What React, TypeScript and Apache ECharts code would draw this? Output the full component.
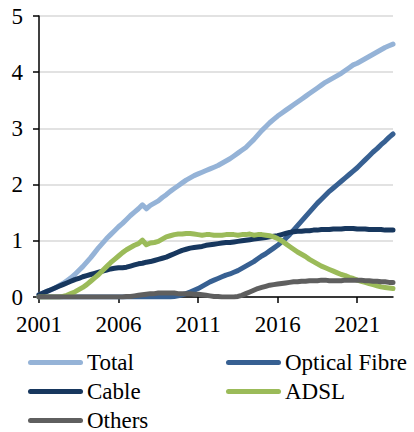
import React, { useEffect, useRef } from "react";
import * as echarts from "echarts";

const years = Array.from({ length: 23 }, (_, i) => 2001 + i);
const quarters = ["Q1", "Q2", "Q3", "Q4"];
const categories: string[] = [];
years.forEach((y) => quarters.forEach((q) => categories.push(`${y}${q}`)));
categories.length = 90; // 2001Q1 .. 2023Q2

const total = [
  0.04, 0.07, 0.10, 0.13,
  0.16, 0.20, 0.24, 0.29,
  0.34, 0.40, 0.47, 0.54,
  0.62, 0.70, 0.79, 0.88,
  0.96, 1.04, 1.11, 1.18,
  1.25, 1.31, 1.38, 1.45,
  1.51, 1.57, 1.64, 1.57,
  1.63, 1.67, 1.71, 1.77,
  1.82, 1.88, 1.93, 1.98,
  2.03, 2.08, 2.12, 2.16,
  2.19, 2.22, 2.25, 2.28,
  2.31, 2.34, 2.38, 2.42,
  2.46, 2.51, 2.56, 2.61,
  2.66, 2.73, 2.80, 2.88,
  2.96, 3.03, 3.10, 3.16,
  3.22, 3.27, 3.32, 3.37,
  3.42, 3.47, 3.52, 3.57,
  3.62, 3.67, 3.72, 3.77,
  3.82, 3.86, 3.90, 3.94,
  3.98, 4.03, 4.08, 4.13,
  4.16, 4.20, 4.24, 4.28,
  4.32, 4.36, 4.40, 4.44,
  4.47, 4.50,
];

const opticalFibre = [
  0, 0, 0, 0,
  0, 0, 0, 0,
  0, 0, 0, 0,
  0, 0, 0, 0,
  0, 0, 0, 0,
  0, 0, 0, 0,
  0, 0, 0, 0,
  0, 0, 0, 0,
  0, 0, 0.01, 0.02,
  0.04, 0.06, 0.09, 0.12,
  0.15, 0.19, 0.23, 0.27,
  0.30, 0.33, 0.36, 0.39,
  0.41, 0.44, 0.47, 0.51,
  0.55, 0.59, 0.63, 0.68,
  0.73, 0.77, 0.82, 0.87,
  0.92, 0.98, 1.04, 1.11,
  1.19, 1.27, 1.35, 1.43,
  1.51, 1.59, 1.67, 1.74,
  1.81, 1.88, 1.94, 2.00,
  2.06, 2.12, 2.18, 2.24,
  2.30, 2.37, 2.44, 2.51,
  2.58, 2.64, 2.71, 2.77,
  2.84, 2.90,
];

const cable = [
  0.04, 0.07, 0.10, 0.13,
  0.16, 0.19, 0.22, 0.25,
  0.28, 0.31, 0.33, 0.36,
  0.38, 0.40, 0.42, 0.44,
  0.46, 0.48, 0.50, 0.51,
  0.52, 0.52, 0.53, 0.55,
  0.57, 0.59, 0.60, 0.62,
  0.63, 0.65, 0.67, 0.69,
  0.71, 0.74, 0.77, 0.80,
  0.83, 0.85, 0.87, 0.88,
  0.89, 0.90, 0.92, 0.93,
  0.94, 0.95, 0.96, 0.97,
  0.97, 0.98, 0.99, 1.00,
  1.01, 1.02, 1.03, 1.04,
  1.05, 1.06, 1.07, 1.08,
  1.09, 1.11, 1.13, 1.15,
  1.16, 1.17, 1.17, 1.18,
  1.18, 1.19, 1.19, 1.20,
  1.20, 1.20, 1.21, 1.21,
  1.21, 1.22, 1.22, 1.22,
  1.21, 1.21, 1.21, 1.20,
  1.20, 1.20, 1.20, 1.19,
  1.19, 1.19,
];

const adsl = [
  0, 0, 0, 0,
  0, 0, 0.01, 0.03,
  0.06, 0.09, 0.13, 0.17,
  0.22, 0.28, 0.34, 0.40,
  0.47, 0.54, 0.61, 0.67,
  0.73, 0.79, 0.84, 0.88,
  0.92, 0.95, 1.01, 0.93,
  0.96, 0.97, 0.99, 1.03,
  1.07, 1.09, 1.11, 1.12,
  1.12, 1.13, 1.13, 1.12,
  1.11, 1.10, 1.11, 1.11,
  1.10, 1.10, 1.10, 1.11,
  1.11, 1.11, 1.10, 1.11,
  1.11, 1.12, 1.10, 1.11,
  1.11, 1.10, 1.09, 1.07,
  1.04, 1.00, 0.95, 0.90,
  0.85, 0.80, 0.76, 0.72,
  0.67, 0.63, 0.59, 0.55,
  0.52, 0.49, 0.46, 0.43,
  0.40, 0.38, 0.35, 0.33,
  0.30, 0.28, 0.26, 0.24,
  0.22, 0.20, 0.18, 0.17,
  0.16, 0.15,
];

const others = [
  0, 0, 0, 0,
  0, 0, 0, 0,
  0, 0, 0, 0,
  0, 0, 0, 0,
  0, 0, 0, 0,
  0, 0, 0.01, 0.01,
  0.02, 0.03, 0.04, 0.05,
  0.06, 0.06, 0.07, 0.07,
  0.07, 0.07, 0.07, 0.06,
  0.06, 0.06, 0.06, 0.05,
  0.05, 0.04, 0.03, 0.02,
  0.01, 0.01, 0, 0,
  0, 0, 0.01, 0.03,
  0.06, 0.09, 0.12, 0.15,
  0.17, 0.19, 0.21, 0.22,
  0.23, 0.24, 0.25, 0.26,
  0.27, 0.27, 0.28, 0.28,
  0.29, 0.29, 0.29, 0.30,
  0.30, 0.29, 0.29, 0.29,
  0.29, 0.30, 0.30, 0.30,
  0.30, 0.30, 0.29, 0.29,
  0.28, 0.28, 0.27, 0.27,
  0.26, 0.26,
];

const seriesNames = ["Total", "Optical Fibre", "Cable", "ADSL", "Others"];
const seriesData = [total, opticalFibre, cable, adsl, others];
const seriesColors = ["#95B3D7", "#376092", "#17375E", "#9BBB59", "#5F5F5F"];
const yTicks = [0, 1, 2, 3, 4, 5];

const FONT = "Liberation Serif";
const FS = 23;
const legendPos = [
  { left: 28, top: 351 },
  { left: 226, top: 351 },
  { left: 28, top: 380 },
  { left: 226, top: 380 },
  { left: 28, top: 409 },
];
const legendIcon =
  "path://M2.5,0 H52.5 A2.5,2.5 0 0 1 52.5,5 H2.5 A2.5,2.5 0 0 1 2.5,0 Z";

export default function App() {
  const ref = useRef<HTMLDivElement>(null);
  useEffect(() => {
    document.body.style.margin = "0";
    if (!ref.current) return;
    const chart = echarts.init(ref.current, undefined, { renderer: "svg" });
    chart.setOption({
      animation: false,
      backgroundColor: "#ffffff",
      textStyle: { fontFamily: FONT },
      grid: { left: 39, right: 21, top: 16, bottom: 135, containLabel: false },
      legend: seriesNames.map((n, i) => ({
        data: [n],
        left: legendPos[i].left,
        top: legendPos[i].top,
        padding: 0,
        itemWidth: 55,
        itemHeight: 5,
        icon: legendIcon,
        selectedMode: false,
        textStyle: { fontFamily: FONT, fontSize: FS, color: "#000", padding: [0, 0, 0, -1] },
      })),
      xAxis: {
        type: "category",
        data: categories,
        boundaryGap: false,
        axisLine: { show: true, lineStyle: { color: "#000", width: 1.5 } },
        axisTick: {
          show: true,
          interval: (idx: number) => idx % 20 === 0,
          length: 6,
          lineStyle: { color: "#000", width: 1.5 },
        },
        axisLabel: {
          interval: (idx: number) => idx % 20 === 0,
          formatter: (v: string) => v.slice(0, 4),
          fontFamily: FONT,
          fontSize: FS,
          color: "#000",
          margin: 16,
        },
        splitLine: { show: false },
      },
      yAxis: {
        type: "value",
        min: yTicks[0],
        max: yTicks[yTicks.length - 1],
        interval: 1,
        axisLine: { show: true, lineStyle: { color: "#000", width: 1.5 } },
        axisTick: { show: true, length: 6, lineStyle: { color: "#000", width: 1.5 } },
        axisLabel: {
          fontFamily: FONT,
          fontSize: FS,
          color: "#000",
          margin: 16,
        },
        splitLine: { show: true, lineStyle: { color: "#D9D9D9", width: 1.5 } },
      },
      series: seriesNames.map((n, i) => ({
        name: n,
        type: "line",
        data: seriesData[i],
        showSymbol: false,
        symbol: "none",
        smooth: false,
        color: seriesColors[i],
        lineStyle: { width: 5, color: seriesColors[i], cap: "round", join: "round" },
        z: 2 + i,
      })),
    });
    return () => chart.dispose();
  }, []);
  return <div ref={ref} style={{ width: 414, height: 432 }} />;
}
